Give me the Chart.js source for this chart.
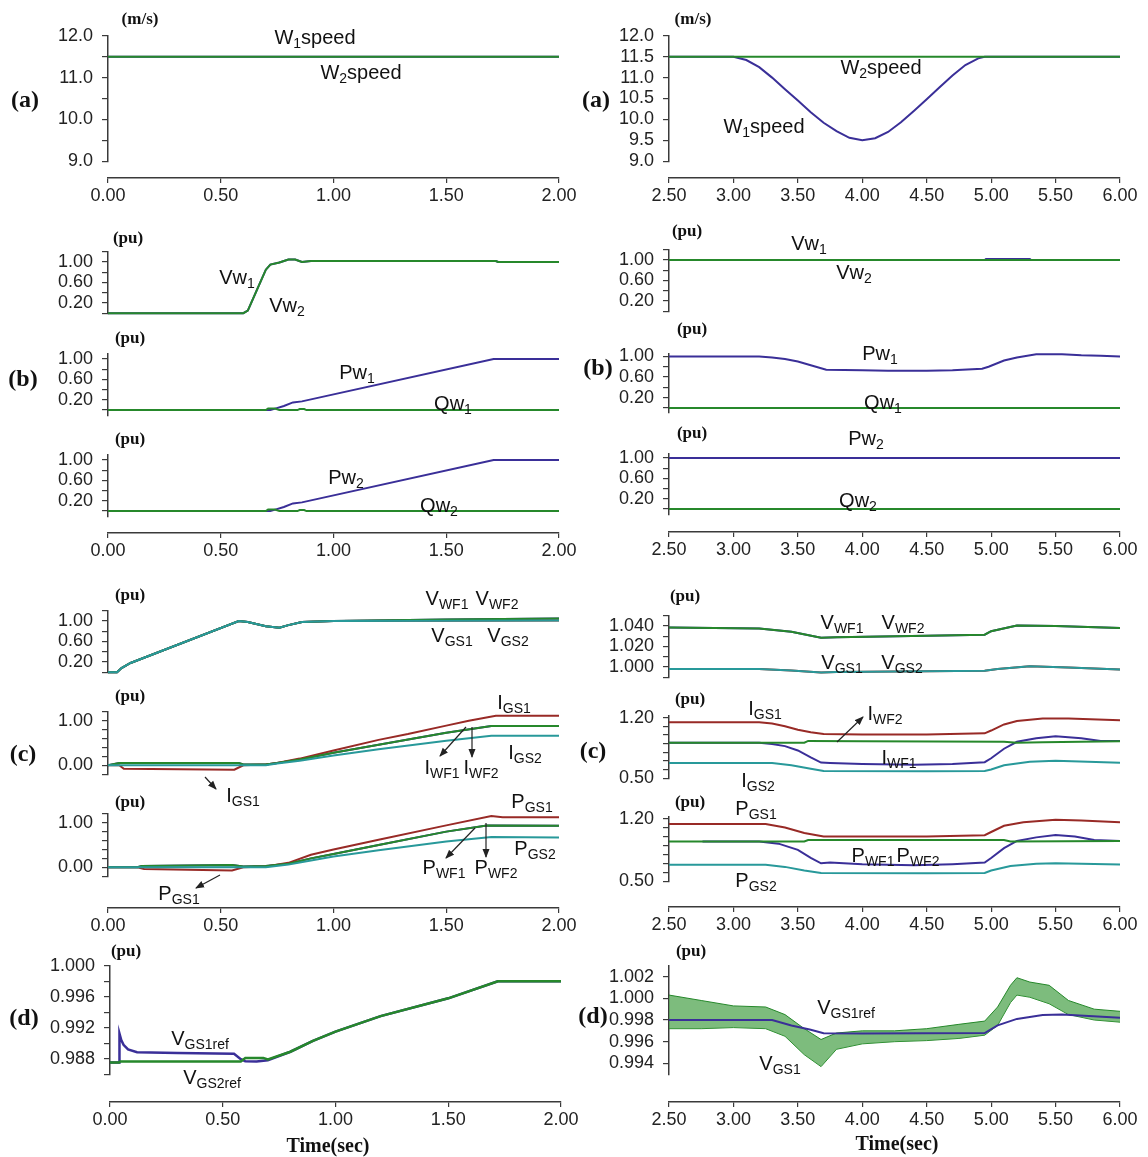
<!DOCTYPE html>
<html>
<head>
<meta charset="utf-8">
<script src="https://cdn.jsdelivr.net/npm/chart.js@4.4.0/dist/chart.umd.min.js"></script>
<style>
body { margin: 0; background: #fff; }
#fig { position: relative; width: 1148px; height: 1157px; overflow: hidden; font-family: "Liberation Sans", Arial, sans-serif; }
#fig canvas { position: absolute; }
.t { position: absolute; transform: translate(-50%, -50%); white-space: nowrap; font-size: 20px; color: #111; line-height: 1; z-index: 3; }
.t sub { font-size: 14px; vertical-align: -0.3em; line-height: 0; }
.u { font-family: "Liberation Serif", "Times New Roman", serif; font-weight: bold; font-size: 17px; }
.p { font-family: "Liberation Serif", "Times New Roman", serif; font-weight: bold; font-size: 24px; }
.tm { font-family: "Liberation Serif", "Times New Roman", serif; font-weight: bold; font-size: 20px; }
#arrows { position: absolute; left: 0; top: 0; z-index: 2; }
</style>
</head>
<body>
<div id="fig">
  <svg id="arrows" width="1148" height="1157">
    <defs>
      <marker id="ah" markerWidth="9" markerHeight="8" refX="8" refY="4" orient="auto" markerUnits="userSpaceOnUse">
        <path d="M0,0.5 L9,4 L0,7.5 z" fill="#222"/>
      </marker>
    </defs>
    <g stroke="#222" stroke-width="1.2" marker-end="url(#ah)">
      <line x1="466" y1="727" x2="440" y2="756"/>
      <line x1="472" y1="727" x2="472" y2="757"/>
      <line x1="205" y1="777" x2="216" y2="789"/>
      <line x1="475" y1="828" x2="446" y2="858"/>
      <line x1="486" y1="823" x2="486" y2="857"/>
      <line x1="220" y1="875" x2="196" y2="888"/>
      <line x1="837" y1="742" x2="863" y2="717"/>
    </g>
  </svg>

  <!-- left column text -->
  <div class="t u" style="left:140px;top:18px">(m/s)</div>
  <div class="t" style="left:315px;top:37px">W<sub>1</sub>speed</div>
  <div class="t" style="left:361px;top:72px">W<sub>2</sub>speed</div>
  <div class="t p" style="left:25px;top:99px">(a)</div>

  <div class="t u" style="left:128px;top:237px">(pu)</div>
  <div class="t" style="left:237px;top:277px">Vw<sub>1</sub></div>
  <div class="t" style="left:287px;top:305px">Vw<sub>2</sub></div>
  <div class="t p" style="left:23px;top:378px">(b)</div>
  <div class="t u" style="left:130px;top:337px">(pu)</div>
  <div class="t" style="left:357px;top:372px">Pw<sub>1</sub></div>
  <div class="t" style="left:453px;top:403px">Qw<sub>1</sub></div>
  <div class="t u" style="left:130px;top:438px">(pu)</div>
  <div class="t" style="left:346px;top:477px">Pw<sub>2</sub></div>
  <div class="t" style="left:439px;top:505px">Qw<sub>2</sub></div>

  <div class="t u" style="left:130px;top:594px">(pu)</div>
  <div class="t" style="left:447px;top:598px">V<sub>WF1</sub></div>
  <div class="t" style="left:497px;top:598px">V<sub>WF2</sub></div>
  <div class="t" style="left:452px;top:635px">V<sub>GS1</sub></div>
  <div class="t" style="left:508px;top:635px">V<sub>GS2</sub></div>
  <div class="t u" style="left:130px;top:695px">(pu)</div>
  <div class="t" style="left:514px;top:702px">I<sub>GS1</sub></div>
  <div class="t" style="left:525px;top:752px">I<sub>GS2</sub></div>
  <div class="t" style="left:442px;top:767px">I<sub>WF1</sub></div>
  <div class="t" style="left:481px;top:767px">I<sub>WF2</sub></div>
  <div class="t" style="left:243px;top:795px">I<sub>GS1</sub></div>
  <div class="t p" style="left:23px;top:753px">(c)</div>
  <div class="t u" style="left:130px;top:801px">(pu)</div>
  <div class="t" style="left:532px;top:801px">P<sub>GS1</sub></div>
  <div class="t" style="left:535px;top:848px">P<sub>GS2</sub></div>
  <div class="t" style="left:444px;top:867px">P<sub>WF1</sub></div>
  <div class="t" style="left:496px;top:867px">P<sub>WF2</sub></div>
  <div class="t" style="left:179px;top:893px">P<sub>GS1</sub></div>

  <div class="t u" style="left:126px;top:950px">(pu)</div>
  <div class="t" style="left:200px;top:1038px">V<sub>GS1ref</sub></div>
  <div class="t" style="left:212px;top:1077px">V<sub>GS2ref</sub></div>
  <div class="t p" style="left:24px;top:1017px">(d)</div>
  <div class="t tm" style="left:328px;top:1145px">Time(sec)</div>

  <!-- right column text -->
  <div class="t u" style="left:693px;top:18px">(m/s)</div>
  <div class="t" style="left:881px;top:67px">W<sub>2</sub>speed</div>
  <div class="t" style="left:764px;top:126px">W<sub>1</sub>speed</div>
  <div class="t p" style="left:596px;top:99px">(a)</div>

  <div class="t u" style="left:687px;top:230px">(pu)</div>
  <div class="t" style="left:809px;top:243px">Vw<sub>1</sub></div>
  <div class="t" style="left:854px;top:272px">Vw<sub>2</sub></div>
  <div class="t u" style="left:692px;top:328px">(pu)</div>
  <div class="t" style="left:880px;top:353px">Pw<sub>1</sub></div>
  <div class="t" style="left:883px;top:402px">Qw<sub>1</sub></div>
  <div class="t p" style="left:598px;top:367px">(b)</div>
  <div class="t u" style="left:692px;top:432px">(pu)</div>
  <div class="t" style="left:866px;top:438px">Pw<sub>2</sub></div>
  <div class="t" style="left:858px;top:500px">Qw<sub>2</sub></div>

  <div class="t u" style="left:685px;top:595px">(pu)</div>
  <div class="t" style="left:842px;top:622px">V<sub>WF1</sub></div>
  <div class="t" style="left:903px;top:622px">V<sub>WF2</sub></div>
  <div class="t" style="left:842px;top:662px">V<sub>GS1</sub></div>
  <div class="t" style="left:902px;top:662px">V<sub>GS2</sub></div>
  <div class="t u" style="left:690px;top:698px">(pu)</div>
  <div class="t" style="left:765px;top:708px">I<sub>GS1</sub></div>
  <div class="t" style="left:885px;top:713px">I<sub>WF2</sub></div>
  <div class="t" style="left:899px;top:757px">I<sub>WF1</sub></div>
  <div class="t" style="left:758px;top:780px">I<sub>GS2</sub></div>
  <div class="t p" style="left:593px;top:750px">(c)</div>
  <div class="t u" style="left:690px;top:801px">(pu)</div>
  <div class="t" style="left:756px;top:808px">P<sub>GS1</sub></div>
  <div class="t" style="left:873px;top:855px">P<sub>WF1</sub></div>
  <div class="t" style="left:918px;top:855px">P<sub>WF2</sub></div>
  <div class="t" style="left:756px;top:880px">P<sub>GS2</sub></div>

  <div class="t u" style="left:691px;top:950px">(pu)</div>
  <div class="t" style="left:846px;top:1007px">V<sub>GS1ref</sub></div>
  <div class="t" style="left:780px;top:1063px">V<sub>GS1</sub></div>
  <div class="t p" style="left:593px;top:1015px">(d)</div>
  <div class="t tm" style="left:897px;top:1143px">Time(sec)</div>
</div>

<script>
// ---- tick labels ----
const timeL = [0, 0.5, 1.0, 1.5, 2.0];
const timeR = [2.5, 3.0, 3.5, 4.0, 4.5, 5.0, 5.5, 6.0];
const ticksSpeed = [9.0, 9.5, 10.0, 10.5, 11.0, 11.5, 12.0];
const labSpeedL = [9.0, 10.0, 11.0, 12.0];
const ticksPu = [0, 0.2, 0.4, 0.6, 0.8, 1.0, 1.2];
const ticksPuLow = [0, 0.2, 0.4, 0.6, 0.8, 1.0];
const labPu = [0.2, 0.6, 1.0];
const ticksIL = [-0.2, 0, 0.2, 0.4, 0.6, 0.8, 1.0, 1.2];
const labIL = [0, 1.0];
const ticksVR = [0.99, 1.0, 1.01, 1.02, 1.03, 1.04, 1.05];
const labVR = [1.0, 1.02, 1.04];
const ticksIR = [0.5, 0.6, 0.7, 0.8, 0.9, 1.0, 1.1, 1.2];
const labIR = [0.5, 1.2];
const ticksDL = [0.986, 0.988, 0.990, 0.992, 0.994, 0.996, 0.998, 1.000];
const labDL = [0.988, 0.992, 0.996, 1.000];
const ticksDR = [0.994, 0.996, 0.998, 1.000, 1.002];

// ---- (a) wind speed [t, m/s] ----
const w1SpeedL = [[0, 11.5], [2, 11.5]];
const w2SpeedL = [[0, 11.5], [2, 11.5]];
const w1SpeedR = [[2.5, 11.5], [3.0, 11.5], [3.1, 11.42], [3.2, 11.25], [3.3, 11.0], [3.4, 10.72], [3.5, 10.45],
  [3.6, 10.17], [3.7, 9.92], [3.8, 9.72], [3.9, 9.56], [4.0, 9.5], [4.1, 9.55], [4.2, 9.7], [4.3, 9.93],
  [4.4, 10.2], [4.5, 10.48], [4.6, 10.77], [4.7, 11.05], [4.8, 11.3], [4.9, 11.46], [4.95, 11.5], [6.0, 11.5]];
const w2SpeedR = [[2.5, 11.5], [6.0, 11.5]];

// ---- (b) wind turbine V, P, Q [t, pu] ----
const vw1L = [[0, 0], [0.6, 0], [0.62, 0.05], [0.66, 0.45], [0.7, 0.85], [0.72, 0.95], [0.76, 0.99], [0.8, 1.05],
  [0.83, 1.05], [0.86, 1.0], [0.9, 1.02], [1.72, 1.02], [1.73, 1.0], [2, 1.0]];
const vw2L = [[0, 0], [0.6, 0], [0.62, 0.05], [0.66, 0.45], [0.7, 0.85], [0.72, 0.95], [0.76, 0.99], [0.8, 1.05],
  [0.83, 1.05], [0.86, 1.0], [0.9, 1.02], [1.72, 1.02], [1.73, 1.0], [2, 1.0]];
const pw1L = [[0, 0], [0.72, 0], [0.78, 0.08], [0.82, 0.15], [0.86, 0.17], [1.71, 1.0], [2, 1.0]];
const qw1L = [[0, 0], [0.7, 0], [0.71, 0.03], [0.74, 0.03], [0.76, 0], [0.84, 0], [0.85, 0.02], [0.87, 0.02], [0.88, 0], [2, 0]];
const pw2L = [[0, 0], [0.72, 0], [0.78, 0.08], [0.82, 0.15], [0.86, 0.17], [1.71, 1.0], [2, 1.0]];
const qw2L = [[0, 0], [0.7, 0], [0.71, 0.03], [0.74, 0.03], [0.76, 0], [0.84, 0], [0.85, 0.02], [0.87, 0.02], [0.88, 0], [2, 0]];

const vw1R = [[2.5, 1], [4.95, 1], [4.96, 1.02], [5.3, 1.02], [5.31, 1], [6, 1]];
const vw2R = [[2.5, 1], [6, 1]];
const pw1R = [[2.5, 1.0], [3.2, 1.0], [3.3, 0.98], [3.4, 0.95], [3.5, 0.9], [3.6, 0.83], [3.72, 0.74], [4.0, 0.73],
  [4.2, 0.72], [4.5, 0.72], [4.7, 0.73], [4.93, 0.76], [4.98, 0.8], [5.1, 0.92], [5.2, 0.98], [5.35, 1.04],
  [5.55, 1.04], [5.7, 1.02], [5.85, 1.01], [6.0, 1.0]];
const qw1R = [[2.5, 0], [6, 0]];
const pw2R = [[2.5, 1], [6, 1]];
const qw2R = [[2.5, 0], [6, 0]];

// ---- (c) grid side quantities [t, pu] ----
const vwfL = [[0, 0], [0.04, 0], [0.06, 0.08], [0.1, 0.18], [0.58, 1.0], [0.62, 0.98], [0.7, 0.9], [0.76, 0.87],
  [0.8, 0.92], [0.86, 0.98], [1.0, 1.0], [1.5, 1.03], [2, 1.05]];
const vgsL = [[0, 0], [0.04, 0], [0.06, 0.08], [0.1, 0.18], [0.58, 1.0], [0.62, 0.98], [0.7, 0.9], [0.76, 0.87],
  [0.8, 0.92], [0.86, 0.98], [1.0, 1.0], [2, 1.01]];
const igs1L = [[0, 0], [0.05, 0], [0.07, -0.08], [0.56, -0.1], [0.6, 0.0], [0.7, 0.02], [0.75, 0.05], [0.85, 0.15],
  [1.0, 0.33], [1.2, 0.57], [1.33, 0.7], [1.5, 0.89], [1.6, 1.0], [1.72, 1.11], [2, 1.11]];
const iwfL = [[0, 0], [0.05, 0.05], [0.58, 0.05], [0.6, 0.02], [0.7, 0.02], [0.75, 0.05], [0.85, 0.13], [1.0, 0.28],
  [1.2, 0.46], [1.5, 0.73], [1.7, 0.88], [2, 0.88]];
const igs2L = [[0, 0], [0.7, 0], [0.75, 0.04], [0.85, 0.1], [1.0, 0.22], [1.2, 0.36], [1.5, 0.55], [1.7, 0.66], [2, 0.66]];
const pgs1L = [[0, 0], [0.13, 0], [0.16, -0.04], [0.55, -0.07], [0.6, 0.0], [0.7, 0.02], [0.8, 0.1], [0.9, 0.28],
  [1.0, 0.4], [1.2, 0.62], [1.5, 0.94], [1.7, 1.15], [1.75, 1.12], [2, 1.12]];
const pwfL = [[0, 0], [0.13, 0], [0.15, 0.03], [0.55, 0.05], [0.6, 0.02], [0.7, 0.03], [0.8, 0.08], [0.9, 0.2],
  [1.0, 0.3], [1.2, 0.5], [1.5, 0.8], [1.68, 0.94], [2, 0.93]];
const pgs2L = [[0, 0], [0.7, 0], [0.8, 0.06], [0.9, 0.15], [1.0, 0.24], [1.2, 0.38], [1.5, 0.58], [1.7, 0.68], [2, 0.67]];

const vwfR = [[2.5, 1.0385], [3.2, 1.0375], [3.45, 1.0345], [3.68, 1.0285], [3.8, 1.029], [4.5, 1.0305], [4.95, 1.0315],
  [5.0, 1.035], [5.2, 1.0405], [5.5, 1.04], [6.0, 1.038]];
const vgsR = [[2.5, 0.998], [3.2, 0.998], [3.45, 0.9965], [3.68, 0.9945], [3.8, 0.9952], [4.5, 0.9958], [4.95, 0.9962],
  [5.05, 0.998], [5.3, 1.0006], [5.6, 0.9995], [6.0, 0.9975]];
const igs1R = [[2.5, 1.145], [3.2, 1.145], [3.3, 1.13], [3.4, 1.1], [3.5, 1.06], [3.6, 1.03], [3.7, 1.01], [4.0, 1.005],
  [4.5, 1.005], [4.95, 1.018], [5.0, 1.05], [5.1, 1.12], [5.2, 1.16], [5.4, 1.19], [5.6, 1.19], [6.0, 1.168]];
const iwf2R = [[2.5, 0.91], [3.55, 0.91], [3.58, 0.93], [4.0, 0.925], [5.1, 0.92], [5.2, 0.91], [5.4, 0.915], [6.0, 0.925]];
const iwf1R = [[2.5, 0.91], [3.2, 0.91], [3.3, 0.895], [3.4, 0.87], [3.5, 0.82], [3.6, 0.74], [3.68, 0.68], [3.75, 0.675],
  [4.0, 0.665], [4.4, 0.655], [4.7, 0.665], [4.95, 0.685], [5.0, 0.73], [5.1, 0.84], [5.2, 0.92], [5.35, 0.96],
  [5.5, 0.985], [5.7, 0.96], [5.85, 0.93], [6.0, 0.928]];
const igs2R = [[2.5, 0.675], [3.3, 0.675], [3.45, 0.65], [3.6, 0.61], [3.7, 0.582], [4.5, 0.58], [4.95, 0.582],
  [5.0, 0.6], [5.1, 0.65], [5.3, 0.69], [5.5, 0.7], [6.0, 0.678]];
const pgs1R = [[2.5, 1.14], [3.25, 1.14], [3.4, 1.1], [3.55, 1.04], [3.7, 1.0], [4.0, 1.0], [4.5, 1.0], [4.95, 1.014],
  [5.0, 1.05], [5.1, 1.12], [5.25, 1.16], [5.5, 1.187], [5.7, 1.18], [6.0, 1.16]];
const pwf2R = [[2.5, 0.944], [3.55, 0.944], [3.58, 0.96], [5.1, 0.96], [5.15, 0.944], [6.0, 0.95]];
const pwf1R = [[2.76, 0.944], [3.2, 0.944], [3.35, 0.92], [3.5, 0.85], [3.6, 0.76], [3.68, 0.7], [3.75, 0.71], [4.0, 0.69],
  [4.4, 0.677], [4.7, 0.69], [4.95, 0.708], [5.0, 0.76], [5.1, 0.87], [5.2, 0.95], [5.35, 0.99], [5.5, 1.017],
  [5.65, 1.0], [5.8, 0.96], [6.0, 0.95]];
const pgs2R = [[2.5, 0.683], [3.25, 0.683], [3.4, 0.66], [3.55, 0.62], [3.68, 0.592], [4.5, 0.59], [4.95, 0.592],
  [5.0, 0.62], [5.15, 0.67], [5.35, 0.695], [5.5, 0.7], [6.0, 0.686]];

// ---- (d) grid side voltage reference [t, pu] ----
const vgs1refL = [[0, 0.9875], [0.04, 0.9875], [0.042, 0.99125], [0.05, 0.9904], [0.06, 0.9898], [0.08, 0.9892], [0.12, 0.98885],
  [0.3, 0.98875], [0.55, 0.98865], [0.58, 0.98795], [0.6, 0.98768], [0.65, 0.98765], [0.7, 0.9878], [0.8, 0.9889],
  [0.9, 0.9903], [1.0, 0.9915], [1.2, 0.9935], [1.5, 0.9958], [1.72, 0.998], [2, 0.998]];
const vgs2refL = [[0, 0.9875], [0.04, 0.9875], [0.045, 0.98765], [0.58, 0.98765], [0.6, 0.9881], [0.68, 0.9881],
  [0.7, 0.9879], [0.8, 0.9889], [0.9, 0.9903], [1.0, 0.9915], [1.2, 0.9935], [1.5, 0.9958], [1.72, 0.998], [2, 0.998]];
const vgs1refR = [[2.5, 0.998], [3.3, 0.998], [3.45, 0.9975], [3.6, 0.9971], [3.7, 0.99678], [4.0, 0.99675],
  [4.95, 0.9968], [5.05, 0.9975], [5.2, 0.9981], [5.4, 0.99845], [5.55, 0.9985], [6.0, 0.9982]];
// measured V_GS1 oscillates fast: its upper and lower envelope
const bandT = [2.5, 2.75, 3.0, 3.25, 3.4, 3.55, 3.68, 3.8, 4.0, 4.25, 4.5, 4.75, 4.95, 5.05, 5.15, 5.2, 5.3, 5.45, 5.6, 5.8, 6.0];
const vgs1Hi = [1.0003, 0.9998, 0.9993, 0.9992, 0.9985, 0.9972, 0.9962, 0.9968, 0.997, 0.997, 0.9972, 0.9976, 0.9979,
  0.9992, 1.0012, 1.0019, 1.0015, 1.0012, 0.9998, 0.999, 0.9988];
const vgs1Lo = [0.9972, 0.9972, 0.9973, 0.9972, 0.9965, 0.9948, 0.9937, 0.9953, 0.9958, 0.996, 0.9961, 0.9963, 0.9966,
  0.9975, 0.9996, 1.0003, 1.0001, 0.9995, 0.9985, 0.998, 0.9978];

const GREEN = '#26882b';
const BLUE = '#3a2f98';
const RED = '#982a26';
const TEAL = '#28999a';
const AXIS = '#3a3a3a';
const TICK_FONT = { family: '"Liberation Sans", Arial, sans-serif', size: 18 };

const LX = 108, LXD = 110, RX = 669, PW = 451;
const YW = 80, PAD = 14;
const fig = document.getElementById('fig');

function addCanvas(left, top, w, h) {
    const c = document.createElement('canvas');
    c.width = w;
    c.height = h;
    c.style.left = left + 'px';
    c.style.top = top + 'px';
    c.style.width = w + 'px';
    c.style.height = h + 'px';
    fig.insertBefore(c, fig.firstChild);
    return c;
}

function line(pairs, color, extra) {
    return Object.assign({
        data: pairs.map(p => ({ x: p[0], y: p[1] })),
        borderColor: color,
        borderWidth: 2,
        pointRadius: 0,
        tension: 0,
        fill: false,
        clip: 6
    }, extra || {});
}

function isLabel(list, v) {
    return list.some(l => Math.abs(l - v) < 1e-9);
}

// one subplot: y axis only, x axis drawn separately below the group
function panel(axisX, top, bottom, xr, yr, ticks, labels, dec, datasets) {
    const h = bottom - top + 2 * PAD;
    const c = addCanvas(axisX - YW, top - PAD, YW + PW, h);
    new Chart(c, {
        type: 'line',
        data: { datasets: datasets },
        options: {
            responsive: false,
            animation: false,
            events: [],
            layout: { padding: { top: PAD, bottom: PAD, left: 0, right: 0 } },
            plugins: { legend: { display: false }, tooltip: { enabled: false } },
            scales: {
                x: { type: 'linear', min: xr[0], max: xr[1], display: false },
                y: {
                    type: 'linear',
                    min: yr[0],
                    max: yr[1],
                    afterFit: s => { s.width = YW; },
                    afterBuildTicks: s => { s.ticks = ticks.map(v => ({ value: v })); },
                    border: { display: true, color: AXIS, width: 1.5 },
                    grid: { display: true, drawOnChartArea: false, drawTicks: true, tickLength: 6, color: AXIS, lineWidth: 1.2 },
                    ticks: {
                        padding: 9,
                        autoSkip: false,
                        color: '#222',
                        font: TICK_FONT,
                        callback: v => isLabel(labels, v) ? v.toFixed(dec) : ''
                    }
                }
            }
        }
    });
}

// bare time axis
function timeAxis(axisX, lineY, xr, ticks) {
    const PX = 30;
    const c = addCanvas(axisX - PX, lineY - 4, PW + 2 * PX, 44);
    new Chart(c, {
        type: 'line',
        data: { datasets: [] },
        options: {
            responsive: false,
            animation: false,
            events: [],
            layout: { padding: { top: 3, bottom: 0, left: PX, right: PX } },
            plugins: { legend: { display: false }, tooltip: { enabled: false } },
            scales: {
                x: {
                    type: 'linear',
                    min: xr[0],
                    max: xr[1],
                    afterFit: s => { s.height = 40; },
                    afterBuildTicks: s => { s.ticks = ticks.map(v => ({ value: v })); },
                    border: { display: true, color: AXIS, width: 1.5 },
                    grid: { display: true, drawOnChartArea: false, drawTicks: true, tickLength: 5, color: AXIS, lineWidth: 1.2 },
                    ticks: { padding: 2, color: '#222', font: TICK_FONT, maxRotation: 0, autoSkip: false, callback: v => v.toFixed(2) }
                },
                y: { display: false, min: 0, max: 1 }
            }
        }
    });
}

const XL = [0, 2], XR = [2.5, 6];

// (a)
panel(LX, 30, 167, XL, [9, 12], ticksSpeed, labSpeedL, 1, [line(w2SpeedL, GREEN), line(w1SpeedL, BLUE)]);
timeAxis(LX, 178, XL, timeL);
panel(RX, 30, 167, XR, [9, 12], ticksSpeed, ticksSpeed, 1, [line(w2SpeedR, GREEN), line(w1SpeedR, BLUE)]);
timeAxis(RX, 178, XR, timeR);

// (b)
panel(LX, 246, 319, XL, [0, 1.2], ticksPu, labPu, 2, [line(vw2L, GREEN), line(vw1L, BLUE)]);
panel(LX, 348, 421, XL, [-0.1, 1.1], ticksPuLow, labPu, 2, [line(qw1L, GREEN), line(pw1L, BLUE)]);
panel(LX, 449, 522, XL, [-0.1, 1.1], ticksPuLow, labPu, 2, [line(qw2L, GREEN), line(pw2L, BLUE)]);
timeAxis(LX, 533, XL, timeL);
panel(RX, 244, 317, XR, [0, 1.2], ticksPu, labPu, 2, [line(vw2R, GREEN), line(vw1R, BLUE)]);
panel(RX, 348, 418, XR, [-0.08, 1.05], ticksPuLow, labPu, 2, [line(qw1R, GREEN), line(pw1R, BLUE)]);
panel(RX, 448, 520, XR, [-0.1, 1.08], ticksPuLow, labPu, 2, [line(qw2R, GREEN), line(pw2R, BLUE)]);
timeAxis(RX, 532, XR, timeR);

// (c)
panel(LX, 605, 678, XL, [0, 1.2], ticksPu, labPu, 2,
    [line(vgsL, TEAL), line(vwfL, GREEN), line(vgsL, RED), line(vwfL, BLUE)]);
panel(LX, 706, 780, XL, [-0.2, 1.2], ticksIL, labIL, 2,
    [line(igs2L, TEAL), line(iwfL, GREEN), line(igs1L, RED), line(iwfL, BLUE)]);
panel(LX, 808, 882, XL, [-0.2, 1.2], ticksIL, labIL, 2,
    [line(pgs2L, TEAL), line(pwfL, GREEN), line(pgs1L, RED), line(pwfL, BLUE)]);
timeAxis(LX, 908, XL, timeL);
panel(RX, 610, 683, XR, [0.99, 1.05], ticksVR, labVR, 3,
    [line(vgsR, TEAL), line(vwfR, GREEN), line(vgsR, RED), line(vwfR, BLUE)]);
panel(RX, 710, 784, XR, [0.5, 1.22], ticksIR, labIR, 2,
    [line(igs2R, TEAL), line(iwf2R, GREEN), line(iwf1R, BLUE), line(igs1R, RED)]);
panel(RX, 811, 887, XR, [0.5, 1.22], ticksIR, labIR, 2,
    [line(pgs2R, TEAL), line(pwf2R, GREEN), line(pwf1R, BLUE), line(pgs1R, RED)]);
timeAxis(RX, 907, XR, timeR);

// (d)
panel(LXD, 960, 1080, XL, [0.986, 1.0], ticksDL, labDL, 3,
    [line(vgs2refL, GREEN, { borderWidth: 2.5 }), line(vgs1refL, BLUE, { borderWidth: 2.5 })]);
timeAxis(LXD, 1102, XL, timeL);
const hiPairs = bandT.map((t, i) => [t, vgs1Hi[i]]);
const loPairs = bandT.map((t, i) => [t, vgs1Lo[i]]);
panel(RX, 960, 1080, XR, [0.993, 1.003], ticksDR, ticksDR, 3, [
    line(vgs1refR, BLUE),
    line(hiPairs, GREEN, { borderWidth: 1, fill: '+1', backgroundColor: 'rgba(70,160,70,0.7)' }),
    line(loPairs, GREEN, { borderWidth: 1 })
]);
timeAxis(RX, 1102, XR, timeR);
</script>
</body>
</html>
